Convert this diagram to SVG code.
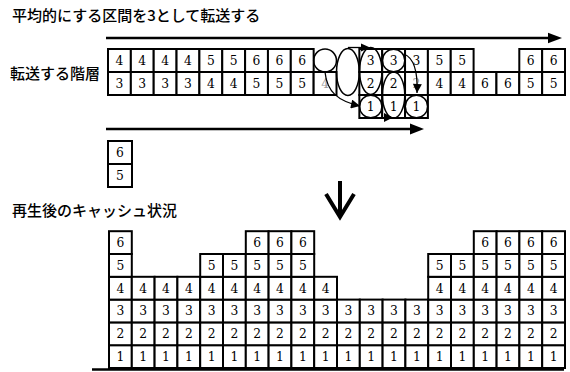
<svg xmlns="http://www.w3.org/2000/svg" width="570" height="372" viewBox="0 0 570 372">
<style>
.c{fill:#fff;stroke:#000;stroke-width:2}
.n{font-family:"DejaVu Serif","Liberation Serif",serif;font-size:12.3px;text-anchor:middle;fill:#000}
.f{fill:#999}
.lbl{font-family:"Noto Sans CJK JP","Noto Sans",sans-serif;font-size:15px;font-weight:500;fill:#000}
.o{fill:none;stroke:#000;stroke-width:1.5}
.ln{fill:none;stroke:#000;stroke-width:2.5}
.cv{fill:none;stroke:#000;stroke-width:1.3}
.hd{fill:#000}
</style>
<defs>
<marker id="ah" viewBox="0 0 10 10" refX="10" refY="5" markerWidth="10" markerHeight="9" markerUnits="userSpaceOnUse" orient="auto"><path d="M0,0 L10,5 L0,10 z" fill="#000"/></marker>
</defs>
<rect width="570" height="372" fill="#fff"/>
<g id="labels">
<text class="lbl" x="12" y="21">平均的にする区間を3として転送する</text>
<text class="lbl" x="10" y="79">転送する階層</text>
<text class="lbl" x="12" y="216">再生後のキャッシュ状況</text>
</g>
<g id="transfer">
<g id="t0" transform="translate(108,0)"><rect class="c" y="49" width="22.85" height="23"/><text class="n" x="11.4" y="65">4</text><rect class="c" y="72" width="22.85" height="23"/><text class="n" x="11.4" y="88">3</text></g>
<g id="t1" transform="translate(130.85,0)"><rect class="c" y="49" width="22.85" height="23"/><text class="n" x="11.4" y="65">4</text><rect class="c" y="72" width="22.85" height="23"/><text class="n" x="11.4" y="88">3</text></g>
<g id="t2" transform="translate(153.7,0)"><rect class="c" y="49" width="22.85" height="23"/><text class="n" x="11.4" y="65">4</text><rect class="c" y="72" width="22.85" height="23"/><text class="n" x="11.4" y="88">3</text></g>
<g id="t3" transform="translate(176.55,0)"><rect class="c" y="49" width="22.85" height="23"/><text class="n" x="11.4" y="65">4</text><rect class="c" y="72" width="22.85" height="23"/><text class="n" x="11.4" y="88">3</text></g>
<g id="t4" transform="translate(199.4,0)"><rect class="c" y="49" width="22.85" height="23"/><text class="n" x="11.4" y="65">5</text><rect class="c" y="72" width="22.85" height="23"/><text class="n" x="11.4" y="88">4</text></g>
<g id="t5" transform="translate(222.25,0)"><rect class="c" y="49" width="22.85" height="23"/><text class="n" x="11.4" y="65">5</text><rect class="c" y="72" width="22.85" height="23"/><text class="n" x="11.4" y="88">4</text></g>
<g id="t6" transform="translate(245.1,0)"><rect class="c" y="49" width="22.85" height="23"/><text class="n" x="11.4" y="65">6</text><rect class="c" y="72" width="22.85" height="23"/><text class="n" x="11.4" y="88">5</text></g>
<g id="t7" transform="translate(267.95,0)"><rect class="c" y="49" width="22.85" height="23"/><text class="n" x="11.4" y="65">6</text><rect class="c" y="72" width="22.85" height="23"/><text class="n" x="11.4" y="88">5</text></g>
<g id="t8" transform="translate(290.8,0)"><rect class="c" y="49" width="22.85" height="23"/><text class="n" x="11.4" y="65">6</text><rect class="c" y="72" width="22.85" height="23"/><text class="n" x="11.4" y="88">5</text></g>
<g id="t9" transform="translate(313.65,0)"><rect class="c" y="72" width="22.85" height="23"/><text class="n f" x="11.4" y="88">4</text><ellipse class="o" cx="11.4" cy="60.5" rx="11.4" ry="11.5"/></g>
<g id="t10" transform="translate(336.5,0)"><ellipse class="o" cx="11.4" cy="72" rx="11.4" ry="23.5"/></g>
<g id="t11" transform="translate(359.35,0)"><rect class="c" y="49" width="22.85" height="23"/><text class="n" x="11.4" y="65">3</text><rect class="c" y="72" width="22.85" height="23"/><text class="n" x="11.4" y="88">2</text><rect class="c" y="95" width="22.85" height="23"/><text class="n" x="11.4" y="111">1</text><ellipse class="o" cx="11.4" cy="71" rx="11.2" ry="23.5"/><ellipse class="o" cx="11.4" cy="106.5" rx="11.2" ry="11.2"/></g>
<g id="t12" transform="translate(382.2,0)"><rect class="c" y="49" width="22.85" height="23"/><text class="n" x="11.4" y="65">3</text><rect class="c" y="72" width="22.85" height="23"/><text class="n" x="11.4" y="88">2</text><rect class="c" y="95" width="22.85" height="23"/><text class="n" x="11.4" y="111">1</text><ellipse class="o" cx="11.4" cy="60.5" rx="11.2" ry="11.2"/><ellipse class="o" cx="11.4" cy="95" rx="11.2" ry="23"/></g>
<g id="t13" transform="translate(405.05,0)"><rect class="c" y="49" width="22.85" height="23"/><text class="n" x="11.4" y="65">3</text><rect class="c" y="72" width="22.85" height="23"/><text class="n f" x="11.4" y="88">2</text><rect class="c" y="95" width="22.85" height="23"/><text class="n" x="11.4" y="111">1</text><ellipse class="o" cx="11.4" cy="106.5" rx="11.2" ry="11.2"/></g>
<g id="t14" transform="translate(427.9,0)"><rect class="c" y="49" width="22.85" height="23"/><text class="n" x="11.4" y="65">5</text><rect class="c" y="72" width="22.85" height="23"/><text class="n" x="11.4" y="88">4</text></g>
<g id="t15" transform="translate(450.75,0)"><rect class="c" y="49" width="22.85" height="23"/><text class="n" x="11.4" y="65">5</text><rect class="c" y="72" width="22.85" height="23"/><text class="n" x="11.4" y="88">4</text></g>
<g id="t16" transform="translate(473.6,0)"><rect class="c" y="72" width="22.85" height="23"/><text class="n" x="11.4" y="88">6</text></g>
<g id="t17" transform="translate(496.45,0)"><rect class="c" y="72" width="22.85" height="23"/><text class="n" x="11.4" y="88">6</text></g>
<g id="t18" transform="translate(519.3,0)"><rect class="c" y="49" width="22.85" height="23"/><text class="n" x="11.4" y="65">6</text><rect class="c" y="72" width="22.85" height="23"/><text class="n" x="11.4" y="88">5</text></g>
<g id="t19" transform="translate(542.15,0)"><rect class="c" y="49" width="22.85" height="23"/><text class="n" x="11.4" y="65">6</text><rect class="c" y="72" width="22.85" height="23"/><text class="n" x="11.4" y="88">5</text></g>
</g>
<g id="rest" transform="translate(108,0)"><rect class="c" y="141" width="24" height="23"/><text class="n" x="12" y="157">6</text><rect class="c" y="164" width="24" height="23"/><text class="n" x="12" y="180">5</text></g>
<g id="connectors">
<line class="ln" x1="106" y1="38" x2="550" y2="38"/>
<polygon class="hd" points="548,32.7 562,38 548,43.3"/>
<line class="ln" x1="106" y1="129" x2="412" y2="129"/>
<polygon class="hd" points="410,123.5 424,129 410,134.5"/>
<line class="cv" x1="348" y1="47.5" x2="362" y2="47.5"/>
<polygon class="hd" points="361,43.5 370,47.5 361,51.5"/>
<path class="cv" d="M325,72 C327,92 338,101 360,106" marker-end="url(#ah)"/>
<path class="cv" d="M404,54 C414,58 418,70 417,93" marker-end="url(#ah)"/>
<polygon class="hd" points="384,113 393,117.5 384,122"/>
<line x1="340" y1="181" x2="340" y2="216" stroke="#000" stroke-width="4"/>
<polyline points="326,194 340,217 354,194" fill="none" stroke="#000" stroke-width="4" stroke-linejoin="miter"/>
</g>
<g id="cache">
<g id="b0" transform="translate(109,0)"><rect class="c" y="345.2" width="22.8" height="22.8"/><text class="n" x="11.4" y="361">1</text><rect class="c" y="322.4" width="22.8" height="22.8"/><text class="n" x="11.4" y="338.2">2</text><rect class="c" y="299.6" width="22.8" height="22.8"/><text class="n" x="11.4" y="315.4">3</text><rect class="c" y="276.8" width="22.8" height="22.8"/><text class="n" x="11.4" y="292.6">4</text><rect class="c" y="254" width="22.8" height="22.8"/><text class="n" x="11.4" y="269.8">5</text><rect class="c" y="231.2" width="22.8" height="22.8"/><text class="n" x="11.4" y="247">6</text></g>
<g id="b1" transform="translate(131.8,0)"><rect class="c" y="345.2" width="22.8" height="22.8"/><text class="n" x="11.4" y="361">1</text><rect class="c" y="322.4" width="22.8" height="22.8"/><text class="n" x="11.4" y="338.2">2</text><rect class="c" y="299.6" width="22.8" height="22.8"/><text class="n" x="11.4" y="315.4">3</text><rect class="c" y="276.8" width="22.8" height="22.8"/><text class="n" x="11.4" y="292.6">4</text></g>
<g id="b2" transform="translate(154.6,0)"><rect class="c" y="345.2" width="22.8" height="22.8"/><text class="n" x="11.4" y="361">1</text><rect class="c" y="322.4" width="22.8" height="22.8"/><text class="n" x="11.4" y="338.2">2</text><rect class="c" y="299.6" width="22.8" height="22.8"/><text class="n" x="11.4" y="315.4">3</text><rect class="c" y="276.8" width="22.8" height="22.8"/><text class="n" x="11.4" y="292.6">4</text></g>
<g id="b3" transform="translate(177.4,0)"><rect class="c" y="345.2" width="22.8" height="22.8"/><text class="n" x="11.4" y="361">1</text><rect class="c" y="322.4" width="22.8" height="22.8"/><text class="n" x="11.4" y="338.2">2</text><rect class="c" y="299.6" width="22.8" height="22.8"/><text class="n" x="11.4" y="315.4">3</text><rect class="c" y="276.8" width="22.8" height="22.8"/><text class="n" x="11.4" y="292.6">4</text></g>
<g id="b4" transform="translate(200.2,0)"><rect class="c" y="345.2" width="22.8" height="22.8"/><text class="n" x="11.4" y="361">1</text><rect class="c" y="322.4" width="22.8" height="22.8"/><text class="n" x="11.4" y="338.2">2</text><rect class="c" y="299.6" width="22.8" height="22.8"/><text class="n" x="11.4" y="315.4">3</text><rect class="c" y="276.8" width="22.8" height="22.8"/><text class="n" x="11.4" y="292.6">4</text><rect class="c" y="254" width="22.8" height="22.8"/><text class="n" x="11.4" y="269.8">5</text></g>
<g id="b5" transform="translate(223,0)"><rect class="c" y="345.2" width="22.8" height="22.8"/><text class="n" x="11.4" y="361">1</text><rect class="c" y="322.4" width="22.8" height="22.8"/><text class="n" x="11.4" y="338.2">2</text><rect class="c" y="299.6" width="22.8" height="22.8"/><text class="n" x="11.4" y="315.4">3</text><rect class="c" y="276.8" width="22.8" height="22.8"/><text class="n" x="11.4" y="292.6">4</text><rect class="c" y="254" width="22.8" height="22.8"/><text class="n" x="11.4" y="269.8">5</text></g>
<g id="b6" transform="translate(245.8,0)"><rect class="c" y="345.2" width="22.8" height="22.8"/><text class="n" x="11.4" y="361">1</text><rect class="c" y="322.4" width="22.8" height="22.8"/><text class="n" x="11.4" y="338.2">2</text><rect class="c" y="299.6" width="22.8" height="22.8"/><text class="n" x="11.4" y="315.4">3</text><rect class="c" y="276.8" width="22.8" height="22.8"/><text class="n" x="11.4" y="292.6">4</text><rect class="c" y="254" width="22.8" height="22.8"/><text class="n" x="11.4" y="269.8">5</text><rect class="c" y="231.2" width="22.8" height="22.8"/><text class="n" x="11.4" y="247">6</text></g>
<g id="b7" transform="translate(268.6,0)"><rect class="c" y="345.2" width="22.8" height="22.8"/><text class="n" x="11.4" y="361">1</text><rect class="c" y="322.4" width="22.8" height="22.8"/><text class="n" x="11.4" y="338.2">2</text><rect class="c" y="299.6" width="22.8" height="22.8"/><text class="n" x="11.4" y="315.4">3</text><rect class="c" y="276.8" width="22.8" height="22.8"/><text class="n" x="11.4" y="292.6">4</text><rect class="c" y="254" width="22.8" height="22.8"/><text class="n" x="11.4" y="269.8">5</text><rect class="c" y="231.2" width="22.8" height="22.8"/><text class="n" x="11.4" y="247">6</text></g>
<g id="b8" transform="translate(291.4,0)"><rect class="c" y="345.2" width="22.8" height="22.8"/><text class="n" x="11.4" y="361">1</text><rect class="c" y="322.4" width="22.8" height="22.8"/><text class="n" x="11.4" y="338.2">2</text><rect class="c" y="299.6" width="22.8" height="22.8"/><text class="n" x="11.4" y="315.4">3</text><rect class="c" y="276.8" width="22.8" height="22.8"/><text class="n" x="11.4" y="292.6">4</text><rect class="c" y="254" width="22.8" height="22.8"/><text class="n" x="11.4" y="269.8">5</text><rect class="c" y="231.2" width="22.8" height="22.8"/><text class="n" x="11.4" y="247">6</text></g>
<g id="b9" transform="translate(314.2,0)"><rect class="c" y="345.2" width="22.8" height="22.8"/><text class="n" x="11.4" y="361">1</text><rect class="c" y="322.4" width="22.8" height="22.8"/><text class="n" x="11.4" y="338.2">2</text><rect class="c" y="299.6" width="22.8" height="22.8"/><text class="n" x="11.4" y="315.4">3</text><rect class="c" y="276.8" width="22.8" height="22.8"/><text class="n" x="11.4" y="292.6">4</text></g>
<g id="b10" transform="translate(337,0)"><rect class="c" y="345.2" width="22.8" height="22.8"/><text class="n" x="11.4" y="361">1</text><rect class="c" y="322.4" width="22.8" height="22.8"/><text class="n" x="11.4" y="338.2">2</text><rect class="c" y="299.6" width="22.8" height="22.8"/><text class="n" x="11.4" y="315.4">3</text></g>
<g id="b11" transform="translate(359.8,0)"><rect class="c" y="345.2" width="22.8" height="22.8"/><text class="n" x="11.4" y="361">1</text><rect class="c" y="322.4" width="22.8" height="22.8"/><text class="n" x="11.4" y="338.2">2</text><rect class="c" y="299.6" width="22.8" height="22.8"/><text class="n" x="11.4" y="315.4">3</text></g>
<g id="b12" transform="translate(382.6,0)"><rect class="c" y="345.2" width="22.8" height="22.8"/><text class="n" x="11.4" y="361">1</text><rect class="c" y="322.4" width="22.8" height="22.8"/><text class="n" x="11.4" y="338.2">2</text><rect class="c" y="299.6" width="22.8" height="22.8"/><text class="n" x="11.4" y="315.4">3</text></g>
<g id="b13" transform="translate(405.4,0)"><rect class="c" y="345.2" width="22.8" height="22.8"/><text class="n" x="11.4" y="361">1</text><rect class="c" y="322.4" width="22.8" height="22.8"/><text class="n" x="11.4" y="338.2">2</text><rect class="c" y="299.6" width="22.8" height="22.8"/><text class="n" x="11.4" y="315.4">3</text></g>
<g id="b14" transform="translate(428.2,0)"><rect class="c" y="345.2" width="22.8" height="22.8"/><text class="n" x="11.4" y="361">1</text><rect class="c" y="322.4" width="22.8" height="22.8"/><text class="n" x="11.4" y="338.2">2</text><rect class="c" y="299.6" width="22.8" height="22.8"/><text class="n" x="11.4" y="315.4">3</text><rect class="c" y="276.8" width="22.8" height="22.8"/><text class="n" x="11.4" y="292.6">4</text><rect class="c" y="254" width="22.8" height="22.8"/><text class="n" x="11.4" y="269.8">5</text></g>
<g id="b15" transform="translate(451,0)"><rect class="c" y="345.2" width="22.8" height="22.8"/><text class="n" x="11.4" y="361">1</text><rect class="c" y="322.4" width="22.8" height="22.8"/><text class="n" x="11.4" y="338.2">2</text><rect class="c" y="299.6" width="22.8" height="22.8"/><text class="n" x="11.4" y="315.4">3</text><rect class="c" y="276.8" width="22.8" height="22.8"/><text class="n" x="11.4" y="292.6">4</text><rect class="c" y="254" width="22.8" height="22.8"/><text class="n" x="11.4" y="269.8">5</text></g>
<g id="b16" transform="translate(473.8,0)"><rect class="c" y="345.2" width="22.8" height="22.8"/><text class="n" x="11.4" y="361">1</text><rect class="c" y="322.4" width="22.8" height="22.8"/><text class="n" x="11.4" y="338.2">2</text><rect class="c" y="299.6" width="22.8" height="22.8"/><text class="n" x="11.4" y="315.4">3</text><rect class="c" y="276.8" width="22.8" height="22.8"/><text class="n" x="11.4" y="292.6">4</text><rect class="c" y="254" width="22.8" height="22.8"/><text class="n" x="11.4" y="269.8">5</text><rect class="c" y="231.2" width="22.8" height="22.8"/><text class="n" x="11.4" y="247">6</text></g>
<g id="b17" transform="translate(496.6,0)"><rect class="c" y="345.2" width="22.8" height="22.8"/><text class="n" x="11.4" y="361">1</text><rect class="c" y="322.4" width="22.8" height="22.8"/><text class="n" x="11.4" y="338.2">2</text><rect class="c" y="299.6" width="22.8" height="22.8"/><text class="n" x="11.4" y="315.4">3</text><rect class="c" y="276.8" width="22.8" height="22.8"/><text class="n" x="11.4" y="292.6">4</text><rect class="c" y="254" width="22.8" height="22.8"/><text class="n" x="11.4" y="269.8">5</text><rect class="c" y="231.2" width="22.8" height="22.8"/><text class="n" x="11.4" y="247">6</text></g>
<g id="b18" transform="translate(519.4,0)"><rect class="c" y="345.2" width="22.8" height="22.8"/><text class="n" x="11.4" y="361">1</text><rect class="c" y="322.4" width="22.8" height="22.8"/><text class="n" x="11.4" y="338.2">2</text><rect class="c" y="299.6" width="22.8" height="22.8"/><text class="n" x="11.4" y="315.4">3</text><rect class="c" y="276.8" width="22.8" height="22.8"/><text class="n" x="11.4" y="292.6">4</text><rect class="c" y="254" width="22.8" height="22.8"/><text class="n" x="11.4" y="269.8">5</text><rect class="c" y="231.2" width="22.8" height="22.8"/><text class="n" x="11.4" y="247">6</text></g>
<g id="b19" transform="translate(542.2,0)"><rect class="c" y="345.2" width="22.8" height="22.8"/><text class="n" x="11.4" y="361">1</text><rect class="c" y="322.4" width="22.8" height="22.8"/><text class="n" x="11.4" y="338.2">2</text><rect class="c" y="299.6" width="22.8" height="22.8"/><text class="n" x="11.4" y="315.4">3</text><rect class="c" y="276.8" width="22.8" height="22.8"/><text class="n" x="11.4" y="292.6">4</text><rect class="c" y="254" width="22.8" height="22.8"/><text class="n" x="11.4" y="269.8">5</text><rect class="c" y="231.2" width="22.8" height="22.8"/><text class="n" x="11.4" y="247">6</text></g>
<line x1="92" y1="369.5" x2="564" y2="369.5" stroke="#000" stroke-width="2.5"/>
</g>
</svg>
